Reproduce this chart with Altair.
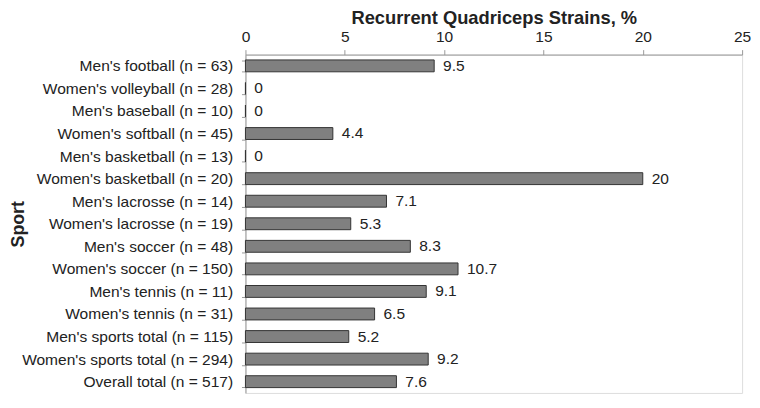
import altair as alt
import pandas as pd

sports = [
    "Men's football (n = 63)",
    "Women's volleyball (n = 28)",
    "Men's baseball (n = 10)",
    "Women's softball (n = 45)",
    "Men's basketball (n = 13)",
    "Women's basketball (n = 20)",
    "Men's lacrosse (n = 14)",
    "Women's lacrosse (n = 19)",
    "Men's soccer (n = 48)",
    "Women's soccer (n = 150)",
    "Men's tennis (n = 11)",
    "Women's tennis (n = 31)",
    "Men's sports total (n = 115)",
    "Women's sports total (n = 294)",
    "Overall total (n = 517)",
]
values = [9.5, 0, 0, 4.4, 0, 20, 7.1, 5.3, 8.3, 10.7, 9.1, 6.5, 5.2, 9.2, 7.6]
x_ticks = [0, 5, 10, 15, 20, 25]

df = pd.DataFrame({"sport": sports, "value": values})

FONT = "Liberation Sans"
TXT = "#222222"
PLOT_H = 342

y_enc = alt.Y(
    "sport:N",
    sort=sports,
    title="Sport",
    scale=alt.Scale(paddingInner=0.5, paddingOuter=0.25),
    axis=alt.Axis(
        tickBand="extent",
        tickSize=4,
        tickColor="#999999",
        domainColor="#999999",
        labelPadding=9,
        labelLimit=400,
        labelFontSize=15.7,
        labelColor=TXT,
        labelFont=FONT,
        titleFont=FONT,
        titleFontSize=18,
        titleFontWeight="bold",
        titleColor=TXT,
        titleX=-229,
        titleY=PLOT_H / 2,
        titleBaseline="middle",
        titleAngle=270,
    ),
)

x_enc = alt.X(
    "value:Q",
    title="Recurrent Quadriceps Strains, %",
    scale=alt.Scale(domain=[0, 25], nice=False),
    axis=alt.Axis(
        orient="top",
        values=x_ticks,
        grid=False,
        labelFlush=False,
        tickSize=5,
        tickColor="#999999",
        domainColor="#999999",
        labelPadding=5,
        labelFontSize=15.7,
        labelColor=TXT,
        labelFont=FONT,
        titleFont=FONT,
        titleFontSize=18.5,
        titleFontWeight="bold",
        titleColor=TXT,
        titleY=-31,
        titleBaseline="alphabetic",
    ),
)

bars = alt.Chart(df).mark_bar(
    size=12, color="#808080", stroke="#333333", strokeWidth=1
).encode(x=x_enc, y=y_enc)

labels = alt.Chart(df).mark_text(
    align="left", baseline="middle", dx=9, fontSize=15.7, font=FONT, color=TXT
).encode(
    x=alt.X("value:Q"),
    y=alt.Y("sport:N", sort=sports),
    text=alt.Text("value:Q", format="~g"),
)

chart = (
    alt.layer(bars, labels)
    .properties(
        width=502,
        height=PLOT_H,
        autosize=alt.AutoSizeParams(type="none"),
        padding={"left": 240, "top": 45, "right": 10, "bottom": 1},
    )
    .configure_view(strokeWidth=0, stroke="transparent")
    .configure(background="white")
)

chart.save("out.html", embed_options={"renderer": "svg", "actions": False})
